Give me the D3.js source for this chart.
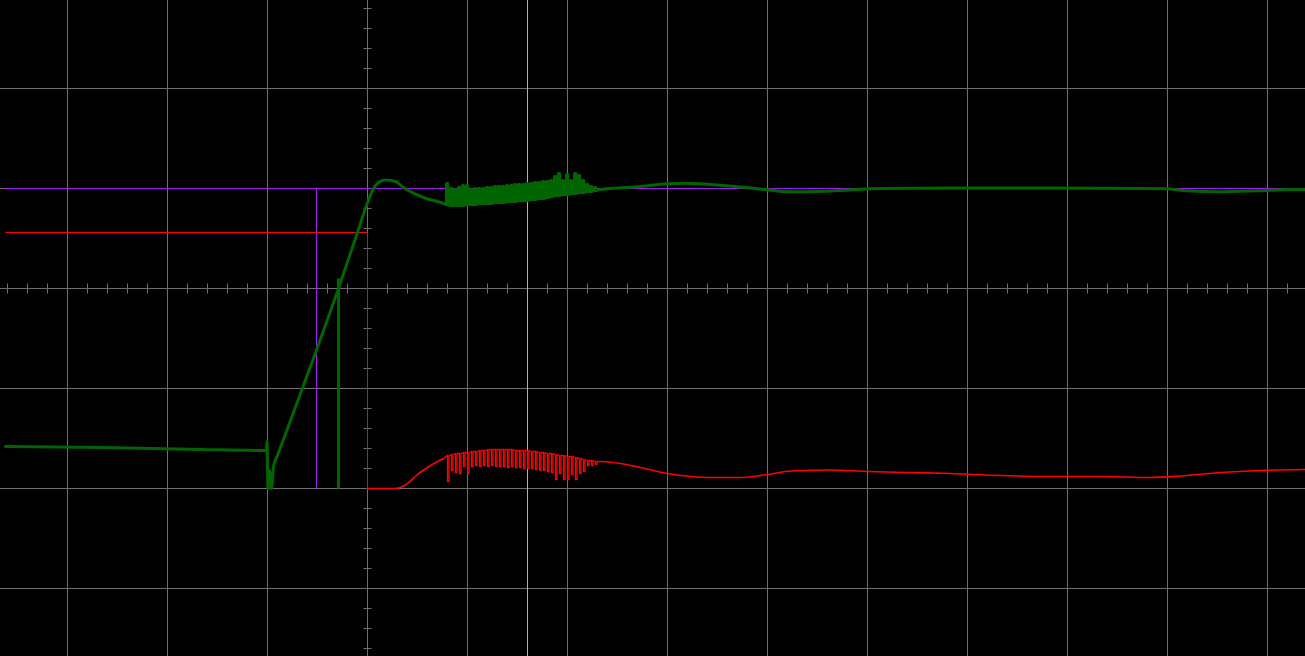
<!DOCTYPE html>
<html>
<head>
<meta charset="utf-8">
<script src="https://cdn.jsdelivr.net/npm/d3@7"></script>
<style>
  html, body { margin: 0; padding: 0; background: #000; overflow: hidden; }
  svg { display: block; }
</style>
</head>
<body>
<div id="scope"></div>
<script>
// time in divisions, voltage in divisions (0 = centre of screen)
const greenRiseT = [-3.62, -2.67, -1.67, -1.01, -1.005, -0.995, -0.98, -0.96, -0.94, -0.90, -0.77, -0.29, -0.10, -0.01, 0.05, 0.11, 0.18, 0.28, 0.36, 0.56, 0.73, 0.79];
const greenRiseV = [-1.58, -1.59, -1.61, -1.62, -1.53, -2.00, -1.82, -2.00, -1.78, -1.67, -1.32, 0.00, 0.56, 0.83, 0.98, 1.06, 1.085, 1.07, 1.01, 0.91, 0.86, 0.84];

const greenSpikeT = [0.79, 0.83, 0.87, 0.91, 0.95, 0.99, 1.03, 1.07, 1.11, 1.15, 1.19, 1.23, 1.27, 1.31, 1.35, 1.39, 1.43, 1.47, 1.51, 1.55, 1.59, 1.63, 1.67, 1.71, 1.75, 1.79, 1.83, 1.87, 1.91, 1.95, 1.99, 2.03, 2.07, 2.11, 2.15, 2.19, 2.23, 2.27];
const greenSpikeTop = [1.05, 1.00, 0.99, 1.01, 1.03, 1.03, 0.99, 1.00, 1.00, 1.00, 1.01, 1.01, 1.02, 1.02, 1.02, 1.03, 1.03, 1.04, 1.04, 1.04, 1.05, 1.05, 1.06, 1.06, 1.07, 1.07, 1.08, 1.12, 1.15, 1.08, 1.14, 1.08, 1.15, 1.13, 1.08, 1.04, 1.02, 1.01];
const greenSpikeBase = [0.84, 0.83, 0.83, 0.83, 0.83, 0.84, 0.84, 0.84, 0.85, 0.85, 0.85, 0.85, 0.86, 0.86, 0.86, 0.87, 0.87, 0.87, 0.88, 0.88, 0.88, 0.89, 0.89, 0.90, 0.90, 0.91, 0.92, 0.93, 0.93, 0.94, 0.94, 0.95, 0.95, 0.96, 0.96, 0.97, 0.97, 0.98];

const greenTailT = [2.285, 2.33, 2.73, 3.00, 3.18, 3.43, 3.76, 4.00, 4.20, 4.60, 4.86, 5.10, 5.83, 6.83, 7.83, 8.00, 8.10, 8.20, 8.50, 8.90, 9.23, 9.38];
const greenTailV = [0.98, 0.99, 1.02, 1.047, 1.053, 1.04, 1.013, 0.987, 0.967, 0.973, 0.987, 1.00, 1.005, 1.005, 1.00, 0.997, 0.987, 0.977, 0.967, 0.977, 0.99, 0.99];

const redRiseT = [0.00, 0.26, 0.33, 0.40, 0.50, 0.60, 0.70, 0.76, 0.80];
const redRiseV = [-2.00, -2.00, -1.99, -1.95, -1.86, -1.79, -1.73, -1.70, -1.67];

const redSpikeT = [0.80, 0.84, 0.88, 0.92, 0.96, 1.00, 1.04, 1.08, 1.12, 1.16, 1.20, 1.24, 1.28, 1.32, 1.36, 1.40, 1.44, 1.48, 1.52, 1.56, 1.60, 1.64, 1.68, 1.72, 1.76, 1.80, 1.84, 1.88, 1.92, 1.96, 2.00, 2.04, 2.08, 2.12, 2.16, 2.20, 2.24, 2.28];
const redSpikeTop = [-1.67, -1.66, -1.65, -1.65, -1.64, -1.64, -1.63, -1.63, -1.62, -1.62, -1.61, -1.61, -1.61, -1.61, -1.61, -1.61, -1.61, -1.62, -1.62, -1.62, -1.62, -1.63, -1.63, -1.64, -1.64, -1.65, -1.65, -1.66, -1.67, -1.67, -1.68, -1.68, -1.69, -1.70, -1.71, -1.72, -1.72, -1.73];
const redSpikeBottom = [-1.93, -1.82, -1.84, -1.85, -1.78, -1.85, -1.78, -1.77, -1.78, -1.77, -1.78, -1.77, -1.78, -1.78, -1.78, -1.79, -1.78, -1.79, -1.79, -1.80, -1.80, -1.80, -1.81, -1.82, -1.82, -1.83, -1.84, -1.91, -1.85, -1.91, -1.91, -1.86, -1.91, -1.85, -1.83, -1.77, -1.77, -1.76];

const redTailT = [2.30, 2.33, 2.53, 2.73, 3.00, 3.23, 3.43, 3.73, 4.00, 4.23, 4.63, 5.00, 5.43, 5.83, 6.33, 6.83, 7.33, 7.83, 8.13, 8.53, 8.93, 9.38];
const redTailV = [-1.73, -1.73, -1.75, -1.79, -1.85, -1.88, -1.89, -1.89, -1.86, -1.825, -1.815, -1.83, -1.84, -1.85, -1.87, -1.88, -1.88, -1.89, -1.875, -1.84, -1.82, -1.81];

// cursors
const purpleCursor = { t: -0.51, v: 1.00, tStart: -3.62, tEnd: 9.23 };
const redCursor = { t: 0.00, v: 0.56, tStart: -3.62 };
const greenCursor = { t: -0.29, v: 0.10 };
const triggerT = 1.60;

const gridT = [-3, -2, -1, 0, 1, 2, 3, 4, 5, 6, 7, 8, 9];
const gridV = [-3, -2, -1, 0, 1, 2];

const width = 1305, height = 656;

let svg = d3.select("#scope").append("svg")
  .attr("width", width).attr("height", height)
  .style("background", "#000");

let x = d3.scaleLinear().domain([-3.675, 9.375]).range([0, width]);
let y = d3.scaleLinear().domain([2.885, -3.675]).range([0, height]);

let gridColor = "#6f6f6f";

// grid
svg.append("g").selectAll("line").data(gridT).join("line")
  .attr("x1", d => x(d)).attr("x2", d => x(d))
  .attr("y1", 0).attr("y2", height)
  .attr("stroke", gridColor).attr("stroke-width", 1);
svg.append("g").selectAll("line").data(gridV).join("line")
  .attr("y1", d => y(d)).attr("y2", d => y(d))
  .attr("x1", 0).attr("x2", width)
  .attr("stroke", gridColor).attr("stroke-width", 1);

// minor ticks on the centre axes
let minorT = d3.range(-3.6, 9.4, 0.2).filter(d => Math.abs(d - Math.round(d)) > 0.01);
let minorV = d3.range(-3.6, 2.9, 0.2).filter(d => Math.abs(d - Math.round(d)) > 0.01);
svg.append("g").selectAll("line").data(minorT).join("line")
  .attr("x1", d => Math.round(x(d) - 0.5) + 0.5).attr("x2", d => Math.round(x(d) - 0.5) + 0.5)
  .attr("y1", y(0) - 5).attr("y2", y(0) + 5)
  .attr("stroke", gridColor);
svg.append("g").selectAll("line").data(minorV).join("line")
  .attr("y1", d => Math.round(y(d) - 0.5) + 0.5).attr("y2", d => Math.round(y(d) - 0.5) + 0.5)
  .attr("x1", x(0) - 4).attr("x2", x(0) + 4)
  .attr("stroke", gridColor);

// trigger marker
svg.append("line")
  .attr("x1", x(triggerT)).attr("x2", x(triggerT))
  .attr("y1", 0).attr("y2", height)
  .attr("stroke", "#f2a93b").attr("stroke-width", 1);

// cursors
let purple = "#a21cf0";
svg.append("line")
  .attr("x1", x(purpleCursor.tStart)).attr("x2", x(purpleCursor.tEnd))
  .attr("y1", y(purpleCursor.v)).attr("y2", y(purpleCursor.v))
  .attr("stroke", purple);
svg.append("line")
  .attr("x1", x(purpleCursor.t)).attr("x2", x(purpleCursor.t))
  .attr("y1", y(purpleCursor.v)).attr("y2", y(-2))
  .attr("stroke", purple);
svg.append("line")
  .attr("x1", x(redCursor.tStart)).attr("x2", x(redCursor.t))
  .attr("y1", y(redCursor.v)).attr("y2", y(redCursor.v))
  .attr("stroke", "#ff0000");
svg.append("line")
  .attr("x1", x(redCursor.t)).attr("x2", x(redCursor.t))
  .attr("y1", y(redCursor.v)).attr("y2", y(-2))
  .attr("stroke", "#ff0000");

let line = d3.line().x(d => x(d[0])).y(d => y(d[1]));
let smooth = d3.line().x(d => x(d[0])).y(d => y(d[1])).curve(d3.curveMonotoneX);

function drawTrace(pts, curve, color, w){
  svg.append("path")
    .attr("d", curve(pts))
    .attr("fill", "none").attr("stroke", color)
    .attr("stroke-width", w).attr("stroke-linejoin", "round").attr("stroke-linecap", "round");
}

// red trace
let red = "#ff0000";
drawTrace(redRiseT.map((t, i) => [t, redRiseV[i]]), smooth, red, 1.6);
let redPts = [];
let dip = 0.015;
for (let i = 0; i < redSpikeT.length; i++) {
  redPts.push([redSpikeT[i], redSpikeTop[i]]);
  redPts.push([redSpikeT[i], redSpikeBottom[i]]);
  redPts.push([redSpikeT[i] + dip, redSpikeBottom[i]]);
  redPts.push([redSpikeT[i] + dip, redSpikeTop[i]]);
}
drawTrace(redPts, line, red, 1.3);
drawTrace(redTailT.map((t, i) => [t, redTailV[i]]), smooth, red, 1.6);

// green trace
let green = "#006400";
drawTrace(greenRiseT.map((t, i) => [t, greenRiseV[i]]), smooth, green, 3);
let greenPts = [];
let spikeW = 0.012;
for (let i = 0; i < greenSpikeT.length; i++) {
  greenPts.push([greenSpikeT[i], greenSpikeBase[i]]);
  greenPts.push([greenSpikeT[i], greenSpikeTop[i]]);
  greenPts.push([greenSpikeT[i] + spikeW, greenSpikeTop[i]]);
  greenPts.push([greenSpikeT[i] + spikeW, greenSpikeBase[i]]);
}
drawTrace(greenPts, line, green, 3);
drawTrace(greenTailT.map((t, i) => [t, greenTailV[i]]), smooth, green, 3);

// green cursor
svg.append("line")
  .attr("x1", x(greenCursor.t)).attr("x2", x(greenCursor.t))
  .attr("y1", y(greenCursor.v)).attr("y2", y(-2))
  .attr("stroke", green).attr("stroke-width", 3);
</script>
</body>
</html>
